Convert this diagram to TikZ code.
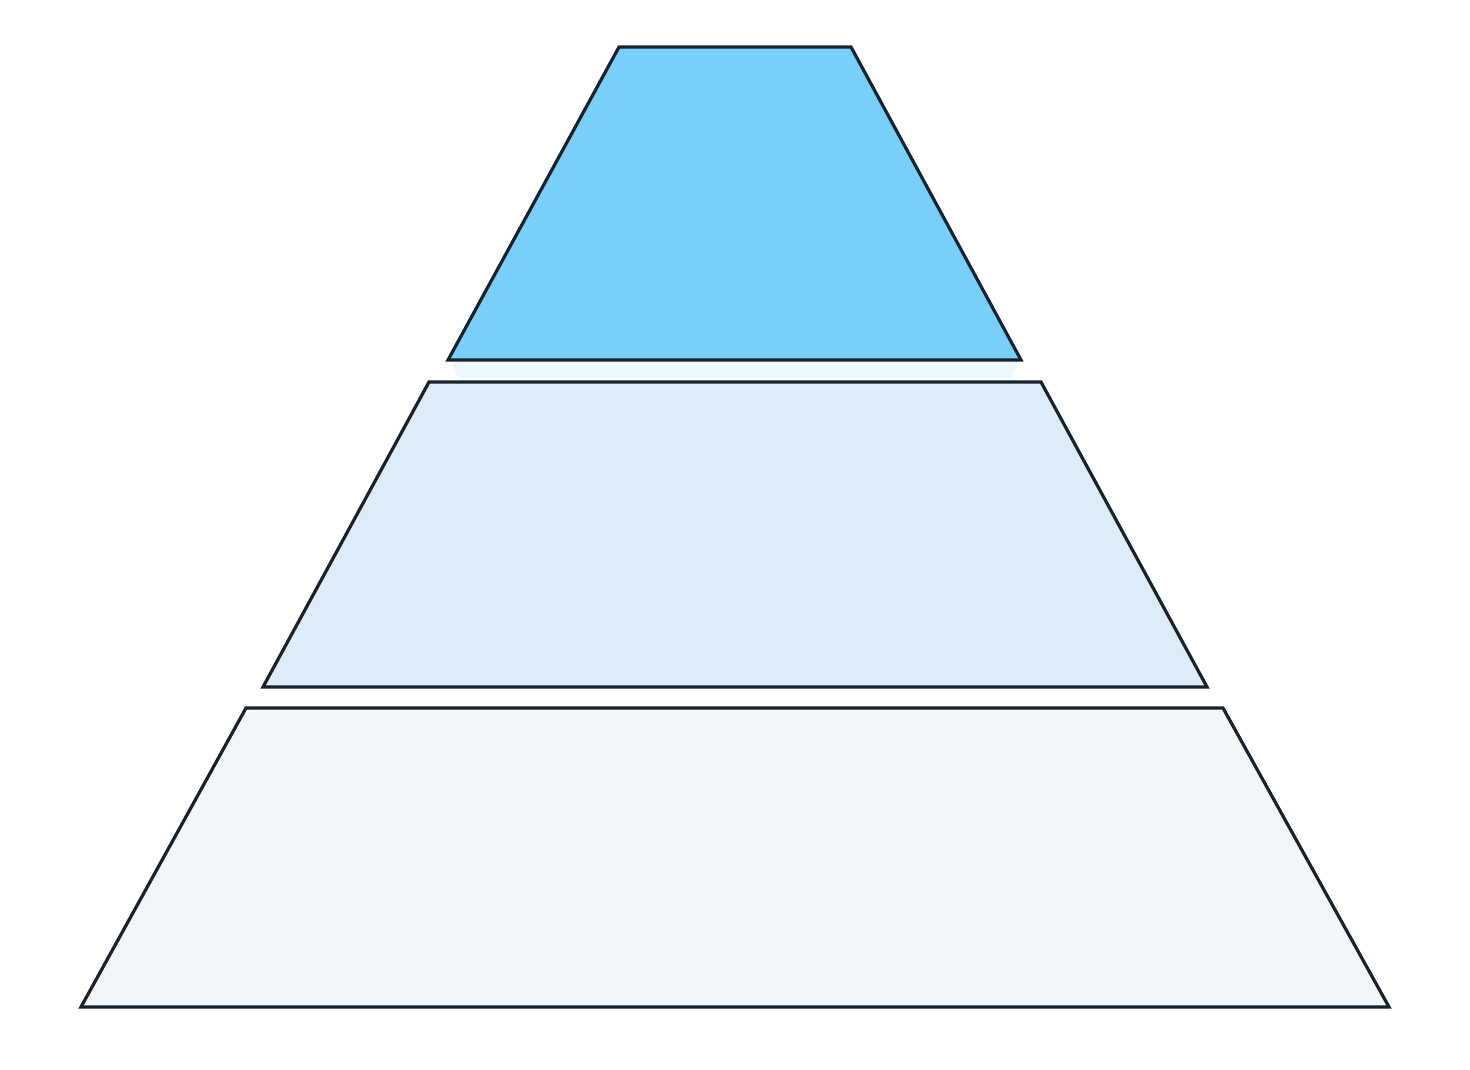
\documentclass[tikz,border=0pt]{standalone}
\definecolor{edge}{HTML}{18222D}
\definecolor{topfill}{HTML}{78CFFA}
\definecolor{midfill}{HTML}{DCECF8}
\definecolor{botfill}{HTML}{F3F6F9}
\begin{document}
\begin{tikzpicture}[x=1pt,y=-1pt,
  layer/.style={draw=edge,line width=3.2pt,line join=miter}]
\useasboundingbox[fill=white] (0,0) rectangle (1470,1070);
\fill[topfill!25,opacity=0.5] (452,362) -- (1018,362) -- (1012,378) -- (458,378) -- cycle;
\filldraw[layer,fill=topfill] (619,47) -- (851,47) -- (1021,360) -- (448,360) -- cycle;
\filldraw[layer,fill=midfill] (429,382) -- (1041,382) -- (1207,687) -- (263,687) -- cycle;
\filldraw[layer,fill=botfill] (246,708) -- (1223,708) -- (1389,1007) -- (81,1007) -- cycle;
\end{tikzpicture}
\end{document}
